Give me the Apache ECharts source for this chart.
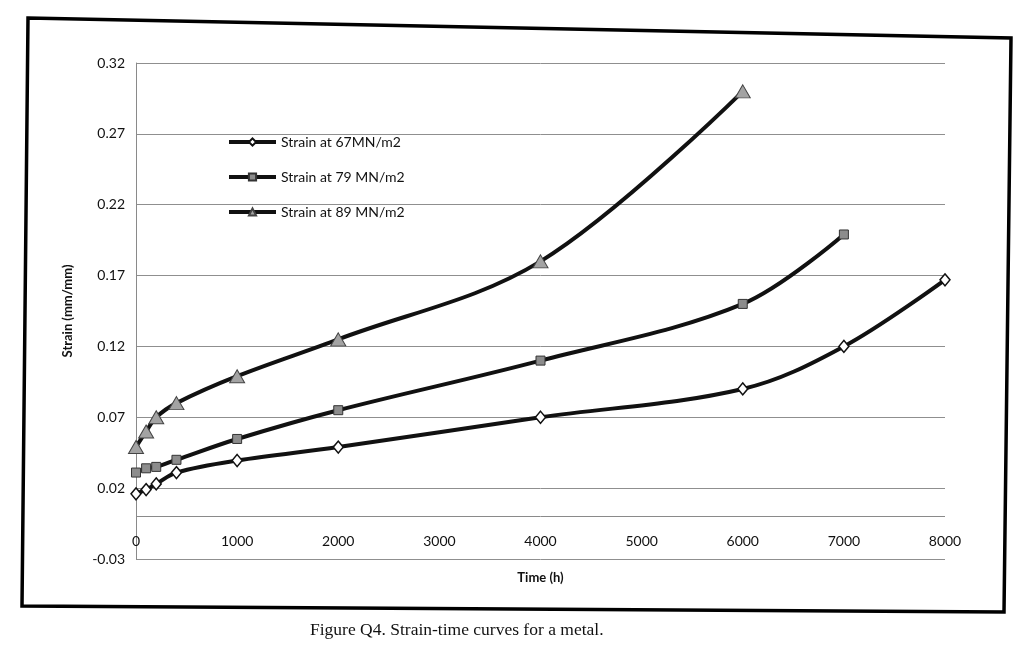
<!DOCTYPE html>
<html>
<head>
<meta charset="utf-8">
<script src="https://cdn.jsdelivr.net/npm/echarts@6/dist/echarts.min.js"></script>
<style>
  html, body { margin: 0; padding: 0; background: #ffffff; }
  #chart { width: 1032px; height: 669px; }
</style>
</head>
<body>
<div id="chart"></div>
<script>
// ---- data ----
const seriesNames = ['Strain at 67MN/m2', 'Strain at 79 MN/m2', 'Strain at 89 MN/m2'];
const time67 = [0, 100, 200, 400, 1000, 2000, 4000, 6000, 7000, 8000];
const strain67 = [0.016, 0.019, 0.023, 0.031, 0.0395, 0.049, 0.070, 0.090, 0.120, 0.167];
const time79 = [0, 100, 200, 400, 1000, 2000, 4000, 6000, 7000];
const strain79 = [0.031, 0.034, 0.035, 0.040, 0.0547, 0.075, 0.110, 0.150, 0.199];
const time89 = [0, 100, 200, 400, 1000, 2000, 4000, 6000];
const strain89 = [0.049, 0.060, 0.070, 0.080, 0.099, 0.125, 0.180, 0.300];
const xTicks = [0, 1000, 2000, 3000, 4000, 5000, 6000, 7000, 8000];
const yTicks = [-0.03, 0.02, 0.07, 0.12, 0.17, 0.22, 0.27, 0.32];
const zeroLine = 0; // horizontal axis crosses at strain = 0
const xTitle = 'Time (h)';
const yTitle = 'Strain (mm/mm)';
const caption = 'Figure Q4. Strain-time curves for a metal.';

function pairs(xs, ys) { return xs.map((x, i) => [x, ys[i]]); }

const font = 'Lato, "Open Sans", "Noto Sans", sans-serif';
const chart = echarts.init(document.getElementById('chart'), null, { renderer: 'canvas' });

const lineStyle = { color: '#111111', width: 4 };

chart.setOption({
  backgroundColor: '#ffffff',
  animation: false,
  grid: { left: 136, right: 87, top: 63, bottom: 110, containLabel: false },
  legend: {
    left: 227, top: 135, orient: 'vertical', padding: 0,
    itemWidth: 47, itemHeight: 9, itemGap: 21,
    lineStyle: { width: 4, color: '#111' },
    textStyle: { fontFamily: font, fontSize: 14, color: '#111' },
    data: seriesNames
  },
  xAxis: {
    type: 'value', position: 'bottom', min: xTicks[0], max: xTicks[xTicks.length - 1], interval: 1000,
    name: xTitle, nameLocation: 'middle', nameGap: 12, nameMoveOverlap: false,
    nameTextStyle: { fontFamily: font, fontSize: 13, fontWeight: 'bold', color: '#111' },
    axisLine: { show: false, onZero: false },
    axisTick: { show: false },
    axisLabel: { fontFamily: font, fontSize: 14, color: '#111', margin: -25,
      formatter: v => String(v) },
    splitLine: { show: false }
  },
  yAxis: {
    type: 'value', min: yTicks[0], max: yTicks[yTicks.length - 1], interval: 0.05,
    name: yTitle, nameLocation: 'middle', nameGap: 62, nameRotate: 90,
    nameTextStyle: { fontFamily: font, fontSize: 13, fontWeight: 'bold', color: '#111' },
    axisLine: { show: true, onZero: false, lineStyle: { color: '#8a8a8a', width: 1 } },
    axisTick: { show: false },
    axisLabel: { fontFamily: font, fontSize: 14, color: '#111', margin: 11,
      formatter: v => (Math.round(v * 100) / 100).toFixed(2) },
    splitLine: { show: true, lineStyle: { color: '#8f8f8f', width: 1 } }
  },
  series: [
    {
      name: seriesNames[0], type: 'line', smooth: 0.35,
      data: pairs(time67, strain67),
      symbol: 'diamond', symbolSize: [10, 12],
      lineStyle: lineStyle,
      itemStyle: { color: '#ffffff', borderColor: '#111', borderWidth: 1.5 },
      markLine: {
        silent: true, symbol: 'none', animation: false, z: 1,
        label: { show: false },
        lineStyle: { color: '#8a8a8a', width: 1, type: 'solid' },
        data: [{ yAxis: zeroLine }]
      },
      z: 3
    },
    {
      name: seriesNames[1], type: 'line', smooth: 0.35,
      data: pairs(time79, strain79),
      symbol: 'rect', symbolSize: 9,
      lineStyle: lineStyle,
      itemStyle: { color: '#8c8c8c', borderColor: '#333', borderWidth: 1 },
      z: 3
    },
    {
      name: seriesNames[2], type: 'line', smooth: 0.35,
      data: pairs(time89, strain89),
      symbol: 'triangle', symbolSize: [15, 13],
      lineStyle: lineStyle,
      itemStyle: { color: '#a3a3a3', borderColor: '#444', borderWidth: 1 },
      z: 3
    }
  ],
  graphic: [
    {
      type: 'polygon', silent: true, z: 10,
      shape: { points: [[28, 18], [1011, 38], [1004, 612], [22, 606]] },
      style: { fill: 'none', stroke: '#000', lineWidth: 3.5 }
    },
    {
      type: 'text', left: 310, top: 621, silent: true,
      style: { text: caption, fontFamily: '"Liberation Serif", "DejaVu Serif", serif',
        fontSize: 17.5, fill: '#111' }
    }
  ]
});
</script>
</body>
</html>
